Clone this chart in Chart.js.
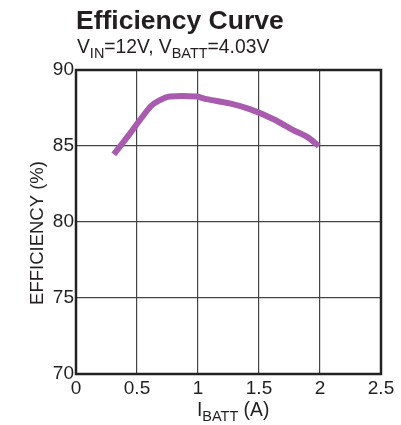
<!DOCTYPE html>
<html>
<head>
<meta charset="utf-8">
<script src="https://cdn.jsdelivr.net/npm/chart.js@4"></script>
<style>
  html, body { margin: 0; padding: 0; background: #fff; }
  #wrap { width: 401px; height: 425px; }
</style>
</head>
<body>
<div id="wrap"><canvas id="eff"></canvas></div>
<script>
// curve
const current = [0.31, 0.45, 0.61, 0.68, 0.77, 0.99, 1.07, 1.26, 1.43, 1.62, 1.78, 1.90, 1.99];
const efficiency = [84.45, 85.9, 87.59, 87.98, 88.25, 88.25, 88.08, 87.8, 87.41, 86.76, 86.05, 85.57, 85.0];
const xTicks = [0, 0.5, 1, 1.5, 2, 2.5];
const yTicks = [70, 75, 80, 85, 90];

const FONT = '"Liberation Sans", Arial, sans-serif';

// draws text with a subscript part: parts = [[text, isSub], ...]
function drawRich(ctx, parts, x, y, size) {
  let cx = x;
  parts.forEach(([t, sub]) => {
    const s = sub ? size * 0.75 : size;
    ctx.font = s + 'px ' + FONT;
    ctx.fillText(t, cx, sub ? y + size * 0.28 : y);
    cx += ctx.measureText(t).width;
  });
  return cx - x;
}

const textPlugin = {
  id: 'texts',
  afterDraw(chart) {
    const ctx = chart.ctx;
    const a = chart.chartArea;
    ctx.save();
    // frame
    ctx.strokeStyle = '#222';
    ctx.lineWidth = 2.5;
    ctx.strokeRect(a.left, a.top, a.right - a.left, a.bottom - a.top);

    ctx.fillStyle = '#231f20';
    ctx.textBaseline = 'alphabetic';
    ctx.textAlign = 'left';
    ctx.font = 'bold 26.5px ' + FONT;
    ctx.fillText('Efficiency Curve', 76, 29);

    drawRich(ctx, [['V', false], ['IN', true], ['=12V, V', false], ['BATT', true], ['=4.03V', false]], 77, 53, 19.3);

    // x title
    drawRich(ctx, [['I', false], ['BATT', true], [' (A)', false]], 197, 416, 19.3);

    // y title
    ctx.translate(43, 233);
    ctx.rotate(-Math.PI / 2);
    ctx.textAlign = 'center';
    ctx.font = '18.5px ' + FONT;
    ctx.fillText('EFFICIENCY (%)', 0, 0);
    ctx.restore();
  }
};

new Chart(document.getElementById('eff'), {
  type: 'line',
  data: {
    datasets: [{
      data: current.map((x, i) => ({ x: x, y: efficiency[i] })),
      borderColor: '#a95cae',
      borderWidth: 6,
      pointRadius: 0,
      tension: 0.3,
      borderCapStyle: 'butt',
      fill: false
    }]
  },
  options: {
    responsive: true,
    maintainAspectRatio: false,
    animation: false,
    layout: { padding: { top: 70, right: 20, left: 0, bottom: 0 } },
    plugins: { legend: { display: false }, tooltip: { enabled: false } },
    scales: {
      x: {
        type: 'linear',
        min: 0, max: 2.5,
        afterBuildTicks: s => { s.ticks = xTicks.map(v => ({ value: v })); },
        afterFit: s => { s.height = 51; },
        grid: { color: '#444', lineWidth: 1.2, drawTicks: false },
        border: { display: false },
        ticks: { color: '#231f20', font: { family: FONT, size: 19 }, padding: 3, maxRotation: 0,
                 callback: v => String(v) }
      },
      y: {
        min: 70, max: 90,
        afterBuildTicks: s => { s.ticks = yTicks.map(v => ({ value: v })); },
        afterFit: s => { s.width = 76; },
        grid: { color: '#444', lineWidth: 1.2, drawTicks: false },
        border: { display: false },
        ticks: { color: '#231f20', font: { family: FONT, size: 19 }, padding: 2 }
      }
    }
  },
  plugins: [textPlugin]
});
</script>
</body>
</html>
